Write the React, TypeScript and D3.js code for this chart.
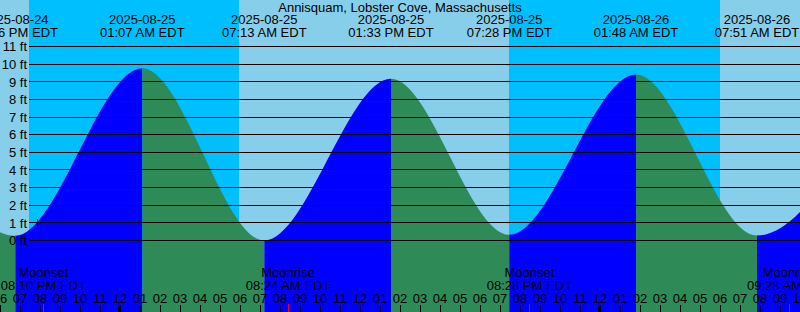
import React from "react";
import * as d3 from "d3";

const title = "Annisquam, Lobster Cove, Massachusetts";
const rangeStart = "2025-08-24 18:00";
const rangeEnd = "2025-08-26 10:00";

// tide extremes (first and last lie just outside the visible window)
const tideTimes = [
  "2025-08-24 12:33",
  "2025-08-24 18:46",
  "2025-08-25 01:07",
  "2025-08-25 07:13",
  "2025-08-25 13:33",
  "2025-08-25 19:28",
  "2025-08-26 01:48",
  "2025-08-26 07:51",
  "2025-08-26 14:12",
];
const tideHeights = [9.5, 0.27, 9.77, 0.0, 9.17, 0.32, 9.41, 0.28, 9.0];
const tideKinds = ["high", "low", "high", "low", "high", "low", "high", "low", "high"];

const sunTimes = ["2025-08-24 19:27", "2025-08-25 05:57", "2025-08-25 19:27", "2025-08-26 06:00"];
const sunKinds = ["set", "rise", "set", "rise"];

const moonTimes = ["2025-08-24 20:10", "2025-08-25 08:24", "2025-08-25 20:28", "2025-08-26 09:28"];
const moonKinds = ["Moonset", "Moonrise", "Moonset", "Moonrise"];

const depthLevels = [0, 1, 2, 3, 4, 5, 6, 7, 8, 9, 10, 11];
const markTime = "2025-08-24 19:53";
const markLevel = 1;

const W = 800;
const H = 312;
const DAY = "#87CEEB";
const NIGHT = "#00BFFF";
const RISE = "#0000FF";
const FALL = "#2E8B57";
const FONT = "'Liberation Sans', Arial, Helvetica, sans-serif";

const parse = d3.utcParse("%Y-%m-%d %H:%M");
const fmtDate = d3.utcFormat("%Y-%m-%d");
const fmtTime = d3.utcFormat("%I:%M %p EDT");
const fmtHour = d3.utcFormat("%I");

export default function App() {
  const t0 = parse(rangeStart)!;
  const t1 = parse(rangeEnd)!;
  const x = d3.scaleUtc().domain([t0, t1]).range([0, W]);
  const y = d3.scaleLinear().domain([0, 11]).range([240.5, 46.5]);

  const tides = tideTimes.map((t, i) => ({ t: parse(t)!, h: tideHeights[i], kind: tideKinds[i] }));

  const area = d3
    .area<{ t: Date; h: number }>()
    .x((d) => x(d.t))
    .y0(H)
    .y1((d) => y(d.h))
    .curve(d3.curveMonotoneX);
  const areaPath = area(tides) || "";

  // rising / falling segments
  const segs = tides.slice(0, -1).map((d, i) => ({
    x0: x(d.t),
    x1: x(tides[i + 1].t),
    rising: d.kind === "low",
  }));

  // day/night bands
  const sun = sunTimes.map((t, i) => ({ t: parse(t)!, kind: sunKinds[i] }));
  const bands: { a: Date; b: Date; day: boolean }[] = [];
  let cur = t0;
  let isDay = sun[0].kind === "set";
  sun.forEach((e) => {
    bands.push({ a: cur, b: e.t, day: isDay });
    cur = e.t;
    isDay = e.kind === "rise";
  });
  bands.push({ a: cur, b: t1, day: isDay });

  const hours = d3.utcHour.range(t0, d3.utcHour.offset(t1, 1));
  const moons = moonTimes.map((t, i) => ({ t: parse(t)!, kind: moonKinds[i] }));
  const visibleTides = tides.filter((d) => d.t >= t0 && d.t <= t1);

  const mx = x(parse(markTime)!);
  const my = y(markLevel);

  return (
    <svg
      width={W}
      height={H}
      style={{ position: "absolute", left: 0, top: 0, display: "block" }}
      fontFamily={FONT}
      fontSize={13}
    >
      <defs>
        {segs.map((s, i) => (
          <clipPath id={`seg${i}`} key={i}>
            <rect x={s.x0} y={0} width={s.x1 - s.x0} height={H} />
          </clipPath>
        ))}
      </defs>
      {bands.map((b, i) => (
        <rect
          key={i}
          x={x(b.a)}
          y={0}
          width={x(b.b) - x(b.a)}
          height={H}
          fill={b.day ? DAY : NIGHT}
          shapeRendering="crispEdges"
        />
      ))}
      {segs.map((s, i) => (
        <path key={i} d={areaPath} fill={s.rising ? RISE : FALL} clipPath={`url(#seg${i})`} />
      ))}
      {depthLevels.map((d) => (
        <g key={d}>
          <line x1={29} x2={W} y1={y(d)} y2={y(d)} stroke="#000" strokeWidth={1} shapeRendering="crispEdges" />
          <text x={27} y={y(d) + 4.8} textAnchor="end" fill="#000">
            {`${d} ft`}
          </text>
        </g>
      ))}
      <g stroke="#000" strokeWidth={1} shapeRendering="crispEdges">
        <line x1={mx - 3.5} x2={mx + 3.5} y1={my} y2={my} />
        <line x1={mx} x2={mx} y1={my - 3.5} y2={my + 3.5} />
      </g>
      <text x={W / 2} y={11.5} textAnchor="middle" fill="#000">
        {title}
      </text>
      {visibleTides.map((d, i) => (
        <g key={i}>
          <text x={x(d.t)} y={24} textAnchor="middle" fill="#000">
            {fmtDate(d.t)}
          </text>
          <text x={x(d.t)} y={36.5} textAnchor="middle" fill="#000">
            {fmtTime(d.t)}
          </text>
        </g>
      ))}
      {moons.map((m, i) => (
        <g key={i}>
          <text x={x(m.t)} y={277} textAnchor="middle" fill="#000">
            {m.kind}
          </text>
          <text x={x(m.t)} y={290} textAnchor="middle" fill="#000">
            {fmtTime(m.t)}
          </text>
        </g>
      ))}
      {hours.map((h, i) => {
        const hx = x(h);
        const midnight = h.getUTCHours() === 0;
        return (
          <g key={i}>
            <text x={hx} y={302.5} textAnchor="middle" fill="#000">
              {fmtHour(h)}
            </text>
            {midnight ? (
              <rect x={hx - 2} y={305} width={3} height={7} fill="#000" shapeRendering="crispEdges" />
            ) : (
              <line x1={hx + 0.5} x2={hx + 0.5} y1={305} y2={312} stroke="#000" shapeRendering="crispEdges" />
            )}
          </g>
        );
      })}
      {moons.map((m, i) => (
        <line
          key={i}
          x1={Math.floor(x(m.t)) + 0.5}
          x2={Math.floor(x(m.t)) + 0.5}
          y1={304}
          y2={312}
          stroke="#FF0000"
          shapeRendering="crispEdges"
        />
      ))}
    </svg>
  );
}
